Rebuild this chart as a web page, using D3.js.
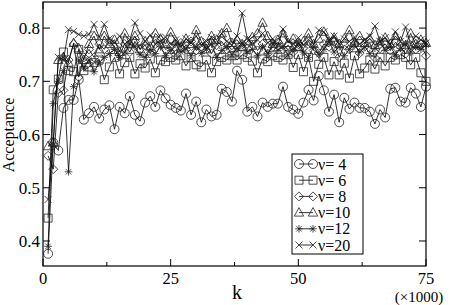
<!DOCTYPE html>
<html><head><meta charset="utf-8">
<script src="https://cdn.jsdelivr.net/npm/d3@7"></script>
<style>body{margin:0;background:#fff}svg{display:block}</style>
</head><body><svg id="c" width="450" height="305"></svg>
<script>
const kValues = d3.range(1, 76);
const nu4 = [0.376,0.585,0.570,0.650,0.665,0.665,0.703,0.628,0.640,0.652,0.630,0.647,0.655,0.610,0.652,0.640,0.672,0.637,0.625,0.660,0.672,0.652,0.683,0.668,0.656,0.650,0.645,0.677,0.637,0.662,0.623,0.647,0.634,0.637,0.686,0.680,0.662,0.720,0.703,0.643,0.652,0.634,0.660,0.652,0.658,0.658,0.690,0.652,0.647,0.639,0.660,0.684,0.664,0.710,0.683,0.643,0.675,0.623,0.669,0.648,0.660,0.650,0.650,0.643,0.620,0.647,0.632,0.686,0.688,0.662,0.660,0.688,0.677,0.652,0.690];
const nu6 = [0.443,0.684,0.704,0.755,0.720,0.718,0.760,0.720,0.727,0.735,0.740,0.703,0.727,0.745,0.714,0.735,0.745,0.714,0.733,0.725,0.742,0.716,0.740,0.737,0.745,0.740,0.748,0.729,0.745,0.731,0.727,0.740,0.716,0.737,0.745,0.740,0.748,0.740,0.750,0.745,0.738,0.716,0.742,0.737,0.748,0.745,0.740,0.750,0.726,0.750,0.718,0.745,0.700,0.732,0.745,0.712,0.737,0.712,0.734,0.706,0.748,0.714,0.725,0.740,0.723,0.745,0.729,0.745,0.740,0.750,0.745,0.731,0.745,0.716,0.700];
const nu8 = [0.560,0.535,0.678,0.683,0.740,0.770,0.708,0.745,0.760,0.745,0.770,0.760,0.775,0.765,0.750,0.770,0.755,0.775,0.760,0.768,0.752,0.770,0.778,0.760,0.765,0.750,0.772,0.760,0.775,0.758,0.765,0.770,0.752,0.768,0.775,0.760,0.768,0.755,0.770,0.762,0.775,0.758,0.770,0.752,0.765,0.773,0.760,0.768,0.755,0.770,0.762,0.775,0.758,0.753,0.770,0.765,0.775,0.745,0.768,0.760,0.770,0.753,0.765,0.772,0.744,0.762,0.770,0.758,0.773,0.765,0.752,0.768,0.760,0.770,0.748];
const nu10 = [0.578,0.585,0.740,0.745,0.735,0.772,0.762,0.740,0.770,0.785,0.760,0.785,0.770,0.778,0.755,0.790,0.770,0.785,0.760,0.775,0.765,0.790,0.780,0.770,0.792,0.775,0.765,0.780,0.770,0.796,0.775,0.760,0.785,0.778,0.790,0.800,0.772,0.778,0.765,0.775,0.783,0.790,0.810,0.785,0.770,0.778,0.790,0.772,0.780,0.765,0.775,0.790,0.770,0.780,0.793,0.775,0.782,0.770,0.780,0.796,0.772,0.785,0.772,0.780,0.768,0.775,0.782,0.770,0.785,0.775,0.768,0.790,0.770,0.778,0.772];
const nu12 = [0.390,0.658,0.700,0.720,0.530,0.690,0.740,0.725,0.740,0.718,0.735,0.745,0.752,0.760,0.745,0.755,0.770,0.765,0.750,0.745,0.760,0.752,0.765,0.748,0.758,0.770,0.755,0.762,0.748,0.765,0.752,0.760,0.770,0.745,0.758,0.765,0.750,0.762,0.772,0.755,0.760,0.748,0.765,0.752,0.770,0.758,0.765,0.750,0.760,0.772,0.755,0.745,0.765,0.750,0.760,0.775,0.755,0.765,0.748,0.760,0.770,0.755,0.765,0.752,0.762,0.775,0.758,0.765,0.750,0.762,0.770,0.755,0.765,0.760,0.768];
const nu20 = [0.478,0.580,0.745,0.740,0.797,0.794,0.788,0.785,0.788,0.807,0.783,0.807,0.780,0.772,0.785,0.770,0.778,0.810,0.790,0.775,0.787,0.770,0.775,0.783,0.770,0.778,0.765,0.780,0.772,0.785,0.768,0.775,0.782,0.770,0.790,0.775,0.768,0.785,0.828,0.780,0.770,0.778,0.790,0.772,0.780,0.768,0.798,0.775,0.770,0.782,0.768,0.778,0.770,0.796,0.793,0.778,0.785,0.770,0.780,0.775,0.783,0.770,0.778,0.785,0.804,0.775,0.782,0.768,0.793,0.775,0.802,0.770,0.785,0.778,0.772];
const seriesNames = ["ν= 4","ν= 6","ν= 8","ν=10","ν=12","ν=20"];
const seriesShapes = ["circle","square","diamond","triangle","star","cross"];
const seriesValues = [nu4, nu6, nu8, nu10, nu12, nu20];
const xTicks = [0, 25, 50, 75];
const xMinorTicks = [12.5, 37.5, 62.5];
const yTicks = [0.4, 0.5, 0.6, 0.7, 0.8];

const FONT = "'Liberation Serif', 'Times New Roman', Tinos, serif";
const svg = d3.select("#c");
const L = 43, R = 426, T = 2, B = 266;
const x = d3.scaleLinear([0, 75], [L, R]);
const y = d3.scaleLinear([0.353, 0.849], [B, T]);

function shapePath(s, cx, cy) {
  const p = d3.path();
  if (s === "circle") { p.moveTo(cx + 4.5, cy); p.arc(cx, cy, 4.5, 0, 2 * Math.PI); }
  else if (s === "square") { p.rect(cx - 4, cy - 4, 8, 8); }
  else if (s === "diamond") { p.moveTo(cx, cy - 4.5); p.lineTo(cx + 4.5, cy); p.lineTo(cx, cy + 4.5); p.lineTo(cx - 4.5, cy); p.closePath(); }
  else if (s === "triangle") { p.moveTo(cx, cy - 5); p.lineTo(cx + 4.7, cy + 3.5); p.lineTo(cx - 4.7, cy + 3.5); p.closePath(); }
  else if (s === "star") {
    const r = 3.8, d = 2.7;
    p.moveTo(cx - r, cy); p.lineTo(cx + r, cy);
    p.moveTo(cx, cy - r); p.lineTo(cx, cy + r);
    p.moveTo(cx - d, cy - d); p.lineTo(cx + d, cy + d);
    p.moveTo(cx - d, cy + d); p.lineTo(cx + d, cy - d);
  } else if (s === "cross") {
    const d = 3.5;
    p.moveTo(cx - d, cy - d); p.lineTo(cx + d, cy + d);
    p.moveTo(cx - d, cy + d); p.lineTo(cx + d, cy - d);
  }
  return p.toString();
}

const line = d3.line().x((d, i) => x(kValues[i])).y(d => y(d));
const plot = svg.append("g");
seriesValues.forEach((vals, si) => {
  plot.append("path").attr("d", line(vals)).attr("fill", "none").attr("stroke", "#000").attr("stroke-width", 0.8);
  plot.selectAll(null).data(vals).enter().append("path")
    .attr("d", (d, i) => shapePath(seriesShapes[si], x(kValues[i]), y(d)))
    .attr("fill", "none").attr("stroke", "#222").attr("stroke-width", 0.8);
});

svg.append("rect").attr("x", L).attr("y", T).attr("width", R - L).attr("height", B - T)
  .attr("fill", "none").attr("stroke", "#000").attr("stroke-width", 1.2);

const ax = svg.append("g");
function txt(g, xx, yy, size, s, anchor) {
  return g.append("text").attr("x", xx).attr("y", yy).attr("font-size", size)
    .attr("font-family", FONT).attr("fill", "#000").attr("text-anchor", anchor || "start").text(s);
}
xTicks.forEach(t => {
  ax.append("line").attr("x1", x(t)).attr("x2", x(t)).attr("y1", B).attr("y2", B - 7).attr("stroke", "#000");
  ax.append("line").attr("x1", x(t)).attr("x2", x(t)).attr("y1", T).attr("y2", T + 7).attr("stroke", "#000");
  txt(ax, x(t), 284, 16.5, t, "middle");
});
xMinorTicks.forEach(t => {
  ax.append("line").attr("x1", x(t)).attr("x2", x(t)).attr("y1", B).attr("y2", B - 4).attr("stroke", "#000");
  ax.append("line").attr("x1", x(t)).attr("x2", x(t)).attr("y1", T).attr("y2", T + 4).attr("stroke", "#000");
});
yTicks.forEach(t => {
  ax.append("line").attr("x1", L).attr("x2", L + 7).attr("y1", y(t)).attr("y2", y(t)).attr("stroke", "#000");
  ax.append("line").attr("x1", R).attr("x2", R - 7).attr("y1", y(t)).attr("y2", y(t)).attr("stroke", "#000");
  txt(ax, 40, y(t) + 6, 17, t.toFixed(1), "end");
});

svg.append("text").attr("transform", "translate(14,135) rotate(-90)").attr("text-anchor", "middle")
  .attr("font-family", FONT).attr("font-size", 16).text("Acceptance");
txt(svg, 237, 299, 20, "k", "middle");
txt(svg, 419, 302, 15, "(×1000)", "middle");

const lg = svg.append("g");
lg.append("rect").attr("x", 292).attr("y", 154).attr("width", 71).attr("height", 100).attr("fill", "#fff").attr("stroke", "#000").attr("stroke-width", 1);
seriesNames.forEach((n, i) => {
  const cy = 164 + i * 16.2;
  lg.append("line").attr("x1", 299).attr("x2", 313).attr("y1", cy).attr("y2", cy).attr("stroke", "#000").attr("stroke-width", 0.8);
  [299, 313].forEach(cx => lg.append("path").attr("d", shapePath(seriesShapes[i], cx, cy)).attr("fill", "none").attr("stroke", "#222").attr("stroke-width", 0.8));
  txt(lg, 318, cy + 5.5, 16, n);
});
</script></body></html>
